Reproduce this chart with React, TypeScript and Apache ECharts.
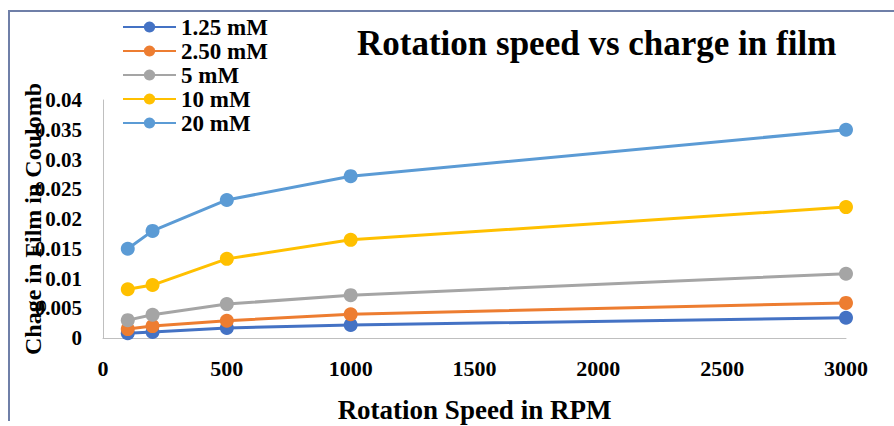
import React, { useEffect, useRef } from "react";
import * as echarts from "echarts";

const rpm = [100, 200, 500, 1000, 3000];
const seriesNames = ["1.25 mM", "2.50 mM", "5 mM", "10 mM", "20 mM"];
const s125 = [0.0008, 0.001, 0.0017, 0.0022, 0.0034];
const s250 = [0.0015, 0.002, 0.0029, 0.004, 0.0059];
const s5 = [0.003, 0.0039, 0.0057, 0.0072, 0.0108];
const s10 = [0.0082, 0.0089, 0.0133, 0.0165, 0.022];
const s20 = [0.015, 0.018, 0.0232, 0.0272, 0.035];
const colors = ["#4472C4", "#ED7D31", "#A5A5A5", "#FFC000", "#5B9BD5"];
const allValues = [s125, s250, s5, s10, s20];

const font = "'Liberation Serif', 'Times New Roman', serif";

export default function App() {
  const ref = useRef<HTMLDivElement>(null);
  useEffect(() => {
    if (!ref.current) return;
    const chart = echarts.init(ref.current, null, { renderer: "svg" });
    chart.setOption({
      animation: false,
      backgroundColor: "#ffffff",
      title: {
        text: "Rotation speed vs charge in film",
        left: 352,
        top: 21,
        textStyle: { fontFamily: font, fontSize: 35, fontWeight: "bold", color: "#000" },
      },
      legend: {
        orient: "vertical",
        left: 122,
        top: 15,
        padding: 0,
        itemGap: 0,
        itemWidth: 53,
        itemHeight: 14,
        data: seriesNames,
        textStyle: { fontFamily: font, fontSize: 23, lineHeight: 24, fontWeight: "bold", color: "#000" },
      },
      grid: { left: 103, right: 48, top: 100, bottom: 88, containLabel: false, outerBoundsMode: "none" },
      xAxis: {
        type: "value",
        min: 0,
        max: 3000,
        interval: 500,
        name: "Rotation Speed in RPM",
        nameLocation: "middle",
        nameGap: 58,
        nameMoveOverlap: false,
        nameTextStyle: { fontFamily: font, fontSize: 27, fontWeight: "bold", color: "#000" },
        axisLine: { show: true, lineStyle: { color: "#bfbfbf", width: 1 } },
        axisTick: { show: false },
        splitLine: { show: false },
        axisLabel: {
          fontFamily: font,
          fontSize: 22,
          fontWeight: "bold",
          color: "#000",
          margin: 19,
          formatter: (v: number) => String(v),
        },
      },
      yAxis: {
        type: "value",
        min: 0,
        max: 0.04,
        interval: 0.005,
        name: "Chage in Film in Coulomb",
        nameLocation: "middle",
        nameGap: 58,
        nameRotate: 90,
        nameMoveOverlap: false,
        nameTextStyle: { fontFamily: font, fontSize: 24, fontWeight: "bold", color: "#000" },
        axisLine: { show: true, lineStyle: { color: "#bfbfbf", width: 1 } },
        axisTick: { show: false },
        splitLine: { show: false },
        axisLabel: {
          fontFamily: font,
          fontSize: 21,
          fontWeight: "bold",
          color: "#000",
          margin: 21,
          formatter: (v: number) => (v === 0 ? "0" : String(parseFloat(v.toFixed(3)))),
        },
      },
      graphic: [
        {
          type: "polyline",
          shape: { points: [[9, 421], [9, 11], [894, 11]] },
          style: { stroke: "#6f7fa8", lineWidth: 2, fill: "none" },
          silent: true,
        },
      ],
      series: seriesNames.map((name, i) => ({
        name,
        type: "line",
        data: rpm.map((x, j) => [x, allValues[i][j]]),
        symbol: "circle",
        symbolSize: 14,
        showSymbol: true,
        lineStyle: { width: 3, color: colors[i] },
        itemStyle: { color: colors[i] },
        z: 2 + i,
      })),
    });
    return () => chart.dispose();
  }, []);
  return (
    <div
      ref={ref}
      style={{ position: "absolute", left: 0, top: 0, width: 894, height: 426 }}
    />
  );
}
